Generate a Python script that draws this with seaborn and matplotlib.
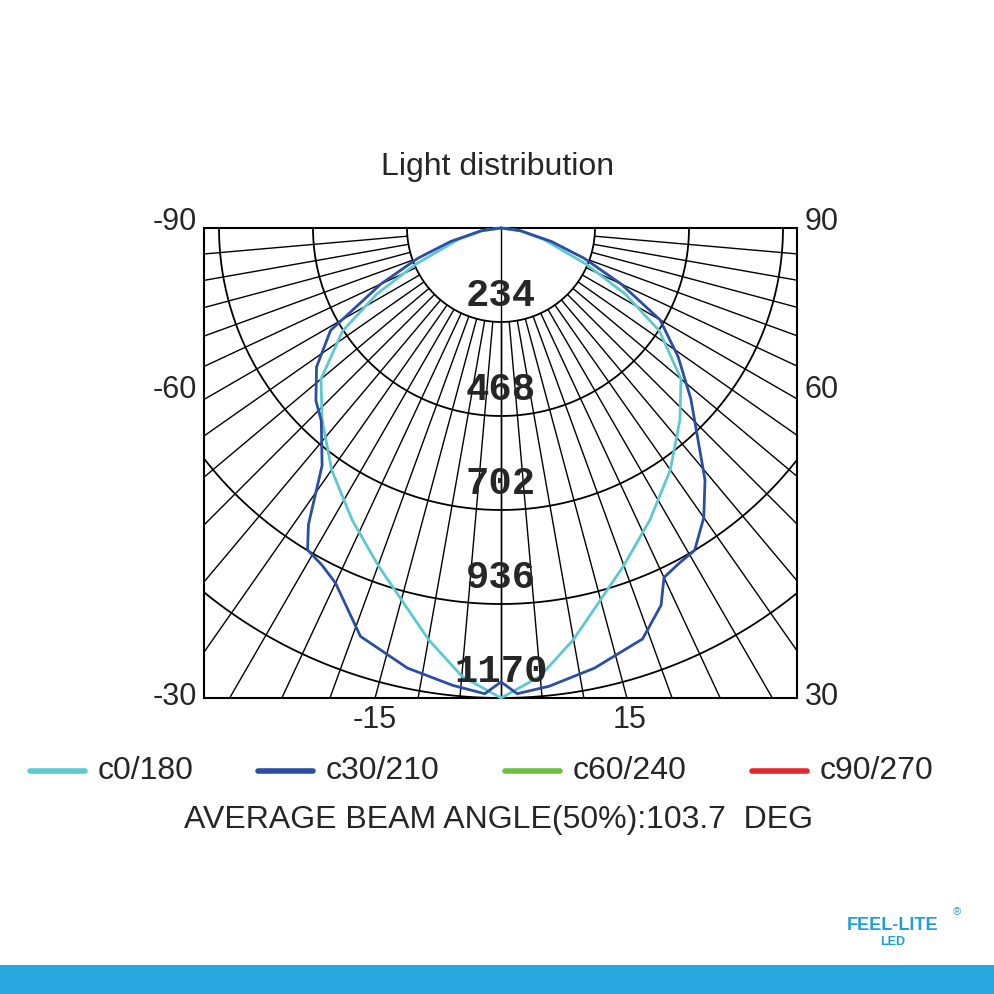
import numpy as np
import pandas as pd
import matplotlib
matplotlib.use("Agg")
import matplotlib.pyplot as plt
import seaborn as sns
from matplotlib.patches import Rectangle

sns.set_style("white")
plt.rcParams["font.family"] = ["Liberation Sans", "DejaVu Sans"]

# polar data: angle (deg, 0 = down), intensity (cd)
ring_values = [234, 468, 702, 936, 1170]
c0_angle = [-90, -82, -75, -67, -62, -57, -50, -43, -35, -27, -20, -15, -10, -5, 0,
            5, 10, 15, 20, 27, 35, 43, 50, 57, 62, 67, 75, 82, 90]
c0_value = [0, 45, 110, 230, 350, 470, 585, 653, 735, 816, 894, 958, 1040, 1120, 1170,
            1120, 1040, 958, 894, 816, 735, 653, 585, 470, 350, 230, 110, 45, 0]
c30_angle = [-90, -82, -75, -70, -65, -59, -53, -47, -43, -37, -33, -31, -28, -25, -19, -12, -6, -2, 0,
             2, 6, 12, 19, 23, 25, 28, 31, 35, 39, 44, 48, 54, 60, 65, 70, 75, 82, 90]
c30_value = [0, 50, 130, 220, 330, 495, 575, 630, 656, 740, 880, 935, 950, 975, 1075, 1120, 1145, 1160, 1130,
             1160, 1147, 1120, 1082, 1020, 960, 945, 936, 880, 807, 700, 636, 545, 457, 330, 220, 130, 50, 0]
legend_names = ["c0/180", "c30/210", "c60/240", "c90/270"]
colors = ["#5cc9d2", "#2a4ea6", "#6cbf3e", "#e5262b"]

cx, cy = 501, 228
scale = 470 / 1170
x0, x1, y0, y1 = 204, 797, 228, 698

fig = plt.figure(figsize=(9.94, 9.94), dpi=100)
ax = fig.add_axes([0, 0, 1, 1])
ax.set_xlim(0, 994)
ax.set_ylim(994, 0)
ax.axis("off")

clip = Rectangle((x0, y0), x1 - x0, y1 - y0, transform=ax.transData, fill=False)

def to_xy(ang, val):
    a = np.radians(np.asarray(ang, float))
    r = np.asarray(val, float) * scale
    return cx + r * np.sin(a), cy + r * np.cos(a)

# grid
for a in np.arange(-85, 90, 5):
    gx, gy = to_xy([a, a], [234, 3000])
    ln, = ax.plot(gx, gy, color="black", lw=1)
    ln.set_clip_path(clip)
ax.plot([cx, cx], [cy, y1], color="black", lw=1)
t = np.linspace(-90, 90, 300)
for v in ring_values:
    gx, gy = to_xy(t, np.full_like(t, v))
    ln, = ax.plot(gx, gy, color="black", lw=1.3)
    ln.set_clip_path(clip)
ax.add_patch(Rectangle((x0, y0), x1 - x0, y1 - y0, fill=False, lw=1.5, color="black"))

# curves
for ang, val, col in [(c0_angle, c0_value, colors[0]), (c30_angle, c30_value, colors[1])]:
    px, py = to_xy(ang, val)
    df = pd.DataFrame({"x": px, "y": py})
    sns.lineplot(data=df, x="x", y="y", sort=False, estimator=None, color=col, lw=2, ax=ax)
ax.set_xlabel("")
ax.set_ylabel("")

for v in ring_values:
    ax.text(cx, cy + v * scale - 8, str(v), ha="center", va="bottom", fontsize=28,
            fontweight="bold", family="Liberation Mono")

for lab, y in [("-90", 222), ("-60", 390), ("-30", 697)]:
    ax.text(197, y, lab, ha="right", va="center", fontsize=22)
for lab, y in [("90", 222), ("60", 390), ("30", 697)]:
    ax.text(805, y, lab, ha="left", va="center", fontsize=22)
ax.text(375, 720, "-15", ha="center", va="center", fontsize=22)
ax.text(630, 720, "15", ha="center", va="center", fontsize=22)

ax.text(498, 167, "Light distribution", ha="center", va="center", fontsize=23)

for i, (name, col) in enumerate(zip(legend_names, colors)):
    lx = [30, 258, 505, 752][i]
    ax.plot([lx, lx + 55], [771, 771], color=col, lw=4, solid_capstyle="round")
    ax.text(lx + 68, 771, name, ha="left", va="center", fontsize=23)
ax.text(498, 820, "AVERAGE BEAM ANGLE(50%):103.7  DEG", ha="center", va="center", fontsize=23)

ax.text(893, 925, "FEEL-LITE", ha="center", va="center", fontsize=13, color="#1f9fd8", fontweight="bold")
ax.text(893, 942, "LED", ha="center", va="center", fontsize=9, color="#1f9fd8", fontweight="bold")
ax.text(957, 912, "®", ha="center", va="center", fontsize=8, color="#1f9fd8")
ax.add_patch(Rectangle((0, 965), 994, 29, color="#29a8e0", lw=0))

fig.savefig("out.png", dpi=100)
